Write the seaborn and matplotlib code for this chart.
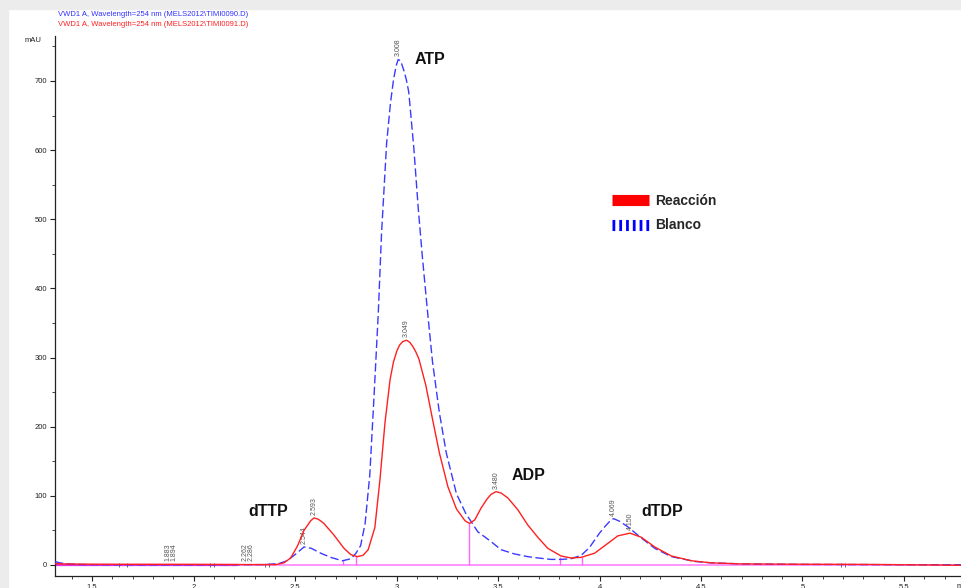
import numpy as np
import pandas as pd
import matplotlib
matplotlib.use("Agg")
import matplotlib.pyplot as plt
import seaborn as sns
from matplotlib.lines import Line2D
from matplotlib.patches import Rectangle
from matplotlib.ticker import MultipleLocator

# Data (time in min, signal in mAU)
blanco_t = [1.317, 1.34, 1.38, 1.45, 1.6, 1.8, 2.0, 2.2, 2.35, 2.42, 2.46, 2.5,
            2.544, 2.58, 2.626, 2.675, 2.733, 2.776, 2.80, 2.823, 2.845, 2.868,
            2.89, 2.91, 2.926, 2.951, 2.97, 2.985, 2.998, 3.008, 3.02, 3.035,
            3.048, 3.06, 3.085, 3.107, 3.127, 3.152, 3.177, 3.211, 3.245, 3.295,
            3.34, 3.40, 3.46, 3.515, 3.58, 3.646, 3.70, 3.76, 3.81, 3.86, 3.91,
            3.95, 3.976, 4.0, 4.025, 4.05, 4.069, 4.10, 4.14, 4.206, 4.272,
            4.354, 4.47, 4.55, 4.7, 5.0, 5.3, 5.6, 5.786]
blanco_v = [5, 3, 1.5, 0.5, 0.3, 0.2, 0.2, 0.3, 0.5, 2, 6, 15,
            26, 24, 17, 11, 6, 9, 17, 28, 60, 130,
            250, 365, 480, 610, 668, 702, 722, 731, 729, 716,
            702, 684, 603, 515, 446, 368, 294, 220, 162, 103,
            75, 48, 35, 22, 16, 12, 10, 8, 8, 9, 14,
            25, 36, 46, 55, 63, 67, 63, 55, 39, 24,
            12, 5, 3, 1.5, 0.8, 0.5, 0.3, 0.3]

reaccion_t = [1.317, 1.35, 1.5, 2.0, 2.3, 2.404, 2.445, 2.478, 2.511, 2.544,
              2.577, 2.593, 2.615, 2.642, 2.692, 2.741, 2.774, 2.807, 2.835,
              2.86, 2.893, 2.918, 2.943, 2.968, 2.985, 3.002, 3.015, 3.03,
              3.049, 3.065, 3.08, 3.095, 3.11, 3.144, 3.177, 3.211, 3.253,
              3.295, 3.337, 3.359, 3.385, 3.416, 3.445, 3.465, 3.49, 3.515,
              3.548, 3.597, 3.646, 3.696, 3.745, 3.81, 3.86, 3.91, 3.976, 4.04,
              4.09, 4.15, 4.206, 4.272, 4.354, 4.453, 4.55, 4.7, 5.0, 5.3, 5.6,
              5.786]
reaccion_v = [2, 1.5, 1, 0.8, 0.5, 0.5, 3, 10, 27, 50,
              64, 68, 66, 60, 43, 24, 15, 12, 14,
              22, 54, 123, 206, 268, 294, 310, 318, 323,
              325, 322, 316, 308, 298, 260, 211, 162, 113,
              81, 64, 60, 65, 82, 95, 102, 106, 104,
              97, 80, 58, 40, 24, 13, 10, 11, 17, 31,
              42, 46, 40, 26, 13, 6, 3, 1.5, 1, 0.8, 0,
              -0.5]

# peak retention time labels
peak_rt = ["3.008", "3.049", "3.480", "4.069", "4.150", "2.593", "2.544",
           "1.883", "1.894", "2.262", "2.286"]
peak_x = [3.008, 3.049, 3.49, 4.069, 4.15, 2.593, 2.544, 1.872, 1.902, 2.253, 2.285]
peak_y = [732, 325, 106, 67, 46, 68, 26, 1, 1, 1, 1]

# integration drop lines and event marks
drop_t = [2.734, 2.80, 3.359, 3.806, 3.913]
drop_v = [7, 13, 60, 12, 11]
event_t = [1.63, 1.67, 2.08, 2.10, 2.35, 2.37, 5.19, 5.21]

compound_names = ["ATP", "dTTP", "ADP", "dTDP"]
compound_x = [3.165, 2.37, 3.65, 4.31]
compound_y = [731, 77, 129, 78]

sns.set_style("ticks")
plt.rcParams['font.family'] = ['Liberation Sans', 'DejaVu Sans']

fig = plt.figure(figsize=(9.62, 5.88), dpi=100)
fig.patch.set_facecolor("white")
fig.add_artist(Rectangle((0, 0), 8 / 962, 1, transform=fig.transFigure, color="#ececec", zorder=0))
fig.add_artist(Rectangle((0, 1 - 9 / 588), 1, 9 / 588, transform=fig.transFigure, color="#ececec", zorder=0))

ax = fig.add_axes([55 / 962, 12 / 588, 907 / 962, 540 / 588])
ax.set_facecolor("white")

blue = "#3a3aff"
red = "#ff2020"

# baseline
ax.plot([1.317, 2.22], [0, 0], color="#e530e5", lw=1.6, zorder=2)
ax.plot([2.22, 5.786], [0, 0], color="#ff8cff", lw=1.3, zorder=2)
ax.vlines(drop_t, 0, drop_v, color="#ff66ff", lw=1, zorder=2)
ax.vlines(event_t, -3, 3, color="#555555", lw=0.6, zorder=2)

df_b = pd.DataFrame({"t": blanco_t, "mAU": blanco_v})
df_r = pd.DataFrame({"t": reaccion_t, "mAU": reaccion_v})
sns.lineplot(data=df_b, x="t", y="mAU", ax=ax, color=blue, lw=1.0,
             linestyle=(0, (6, 2.5)), zorder=3)
sns.lineplot(data=df_r, x="t", y="mAU", ax=ax, color=red, lw=1.0, zorder=4)

for lab, x, y in zip(peak_rt, peak_x, peak_y):
    ax.text(x, y + 4, lab, rotation=90, ha="center", va="bottom",
            fontsize=5, color="#555555")

for name, x, y in zip(compound_names, compound_x, compound_y):
    ax.text(x, y, name, ha="center", va="center", fontsize=11.5,
            fontweight="bold", color="#111111")

ax.set_xlim(1.317, 5.786)
ax.set_ylim(-16, 765)
ax.set_xlabel("")
ax.set_ylabel("")
ax.xaxis.set_major_locator(MultipleLocator(0.5))
ax.xaxis.set_minor_locator(MultipleLocator(0.1))
ax.yaxis.set_major_locator(MultipleLocator(100))
ax.yaxis.set_minor_locator(MultipleLocator(50))
ax.set_xticks(ax.get_xticks())
ax.set_xticklabels([f"{v:g}" for v in ax.get_xticks()])
ax.set_xlim(1.317, 5.786)
ax.tick_params(axis="both", which="major", labelsize=5.5, length=3.5,
               width=0.8, pad=2, colors="#222222")
ax.tick_params(axis="both", which="minor", length=2, width=0.6)
sns.despine(ax=ax, top=True, right=True)
for s in ["left", "bottom"]:
    ax.spines[s].set_linewidth(0.9)
    ax.spines[s].set_color("#222222")

fig.text(33 / 962, 1 - 40 / 588, "mAU", fontsize=5.5, ha="center", va="center", color="#222222")
fig.text(957 / 962, 1 - 586 / 588, "min", fontsize=5.5, ha="left", va="center", color="#222222")
fig.text(58 / 962, 1 - 14 / 588, "VWD1 A, Wavelength=254 nm (MELS2012\\TIMI0090.D)",
         fontsize=5.5, color="#3030ff", ha="left", va="center")
fig.text(58 / 962, 1 - 25 / 588, "VWD1 A, Wavelength=254 nm (MELS2012\\TIMI0091.D)",
         fontsize=5.5, color="#ff2020", ha="left", va="center")

handles = [Line2D([0], [0], color="#ff0000", lw=8, solid_capstyle="butt"),
           Line2D([0], [0], color="#0000ff", lw=8, linestyle=(0, (0.25, 0.36)),
                  dash_capstyle="butt")]
ax.legend(handles, ["Reacción", "Blanco"], loc="upper left",
          bbox_to_anchor=((612 - 55) / 907, (576 - 194) / 540),
          frameon=False, prop={"weight": "bold", "size": 10},
          handlelength=2.7, handletextpad=0.4, labelspacing=0.75,
          borderpad=0, borderaxespad=0)

fig.savefig("out.png", dpi=100)
